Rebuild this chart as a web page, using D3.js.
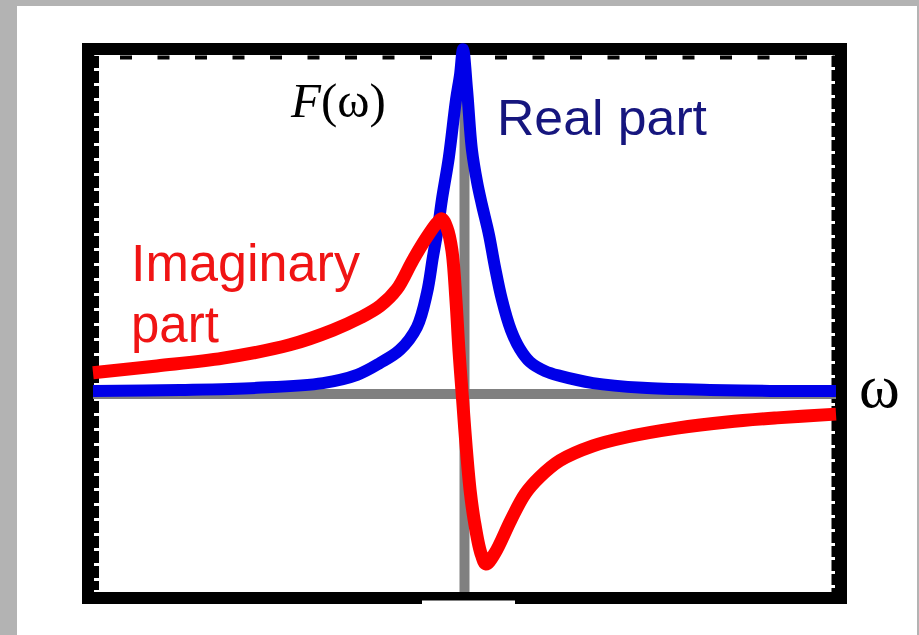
<!DOCTYPE html>
<html>
<head>
<meta charset="utf-8">
<script src="https://cdn.jsdelivr.net/npm/d3@7"></script>
<style>
  html, body { margin: 0; padding: 0; background: #b3b3b3; }
  svg { display: block; }
</style>
</head>
<body>
<script>
// Frequency axis (ω) and the two parts of the response F(ω)
const omegaReal = [-10, -7.66, -5.59, -3.81, -2.89, -2.27, -1.74, -1.28, -1.01, -0.85, -0.71, -0.61, -0.42, -0.23, -0.12, -0.04,
                   0.07, 0.20, 0.34, 0.47, 0.66, 0.82, 1.01, 1.25, 1.49, 1.76, 2.17, 2.57, 3.46, 4.80, 6.61, 8.23, 10];
const realPart  = [0.09, 0.12, 0.18, 0.32, 0.56, 0.91, 1.29, 1.96, 2.96, 4.01, 4.89, 5.68, 6.94, 8.61, 9.35, 10.1,
                   8.90, 7.15, 6.20, 5.54, 4.66, 3.72, 2.75, 1.87, 1.32, 0.94, 0.67, 0.53, 0.32, 0.18, 0.12, 0.09, 0.09];

const omegaImag = [-10, -8.28, -6.50, -4.70, -3.54, -2.81, -2.27, -1.82, -1.39, -1.01, -0.74, -0.61, -0.47, -0.34, -0.23, -0.15,
                   -0.05, 0.04, 0.15, 0.26, 0.44, 0.58, 0.82, 1.25, 1.63, 2.03, 2.57, 3.46, 4.37, 5.72, 7.07, 8.41, 10];
const imagPart  = [0.62, 0.82, 1.05, 1.44, 1.87, 2.23, 2.58, 3.07, 3.92, 4.60, 5.01, 5.13, 4.86, 4.22, 2.75, 1.29,
                   -0.18, -1.49, -2.81, -3.69, -4.66, -4.98, -4.66, -3.69, -2.93, -2.43, -1.95, -1.52, -1.26, -1.00, -0.82, -0.70, -0.59];

const labels = { real: "Real part", imag: ["Imaginary", "part"], yTitle: "F", xTitle: "ω" };

const W = 919, H = 635;
const svg = d3.select("body").append("svg").attr("width", W).attr("height", H);

// page panel
svg.append("rect").attr("x", 17).attr("y", 6).attr("width", 900).attr("height", H - 6).attr("fill", "#fff");

const x = d3.scaleLinear().domain([-10, 10]).range([93, 836]);
const y = d3.scaleLinear().domain([-5.8, 9.9]).range([592, 56]);

// thick black frame
svg.append("rect").attr("x", 88).attr("y", 49).attr("width", 753).attr("height", 549)
  .attr("fill", "none").attr("stroke", "#000").attr("stroke-width", 12);
// small notch along the bottom edge
svg.append("rect").attr("x", 422).attr("y", 600.5).attr("width", 93).attr("height", 4).attr("fill", "#fff");

// dashed inner rims of the frame
svg.append("line").attr("x1", 93).attr("x2", 836).attr("y1", 57.5).attr("y2", 57.5)
  .attr("stroke", "#000").attr("stroke-width", 4).attr("stroke-dasharray", "12 25.5").attr("stroke-dashoffset", -27);
svg.append("line").attr("x1", 96).attr("x2", 96).attr("y1", 56).attr("y2", 590)
  .attr("stroke", "#000").attr("stroke-width", 6).attr("stroke-dasharray", "12 3");
svg.append("line").attr("x1", 834).attr("x2", 834).attr("y1", 56).attr("y2", 592)
  .attr("stroke", "#000").attr("stroke-width", 5).attr("stroke-dasharray", "11 3");

// gray coordinate axes through the origin
const axes = svg.append("g").attr("stroke", "#808080").attr("stroke-width", 10);
axes.append("line").attr("x1", x(-10)).attr("x2", x(10)).attr("y1", y(0)).attr("y2", y(0));
axes.append("line").attr("x1", x(0)).attr("x2", x(0)).attr("y1", y.range()[1]).attr("y2", y.range()[0]);

const line = d3.line().x(d => x(d[0])).y(d => y(d[1])).curve(d3.curveCatmullRom.alpha(0.5));

svg.append("path").datum(d3.zip(omegaReal, realPart)).attr("d", line)
  .attr("fill", "none").attr("stroke", "#0000e8").attr("stroke-width", 12).attr("stroke-linejoin", "round");
svg.append("path").datum(d3.zip(omegaImag, imagPart)).attr("d", line)
  .attr("fill", "none").attr("stroke", "#ff0000").attr("stroke-width", 13).attr("stroke-linejoin", "round");

// labels
const t1 = svg.append("text").attr("x", 291).attr("y", 117)
  .attr("font-family", "'Liberation Serif', 'DejaVu Serif', serif").attr("font-size", 49).attr("fill", "#000");
t1.append("tspan").attr("font-style", "italic").text(labels.yTitle);
t1.append("tspan").text("(ω)");

svg.append("text").attr("x", 497).attr("y", 135)
  .attr("font-family", "'Liberation Sans', Arial, sans-serif").attr("font-size", 50).attr("fill", "#16167e")
  .attr("textLength", 210).attr("lengthAdjust", "spacingAndGlyphs")
  .text(labels.real);

const imag = svg.append("text").attr("font-family", "'Liberation Sans', Arial, sans-serif")
  .attr("font-size", 51).attr("fill", "#f01414");
imag.append("tspan").attr("x", 131).attr("y", 281)
  .attr("textLength", 229).attr("lengthAdjust", "spacingAndGlyphs").text(labels.imag[0]);
imag.append("tspan").attr("x", 131).attr("y", 342).text(labels.imag[1]);

svg.append("text").attr("x", 859).attr("y", 407)
  .attr("font-family", "'Liberation Serif', 'DejaVu Serif', serif").attr("font-size", 62).attr("fill", "#000")
  .text(labels.xTitle);
</script>
</body>
</html>
